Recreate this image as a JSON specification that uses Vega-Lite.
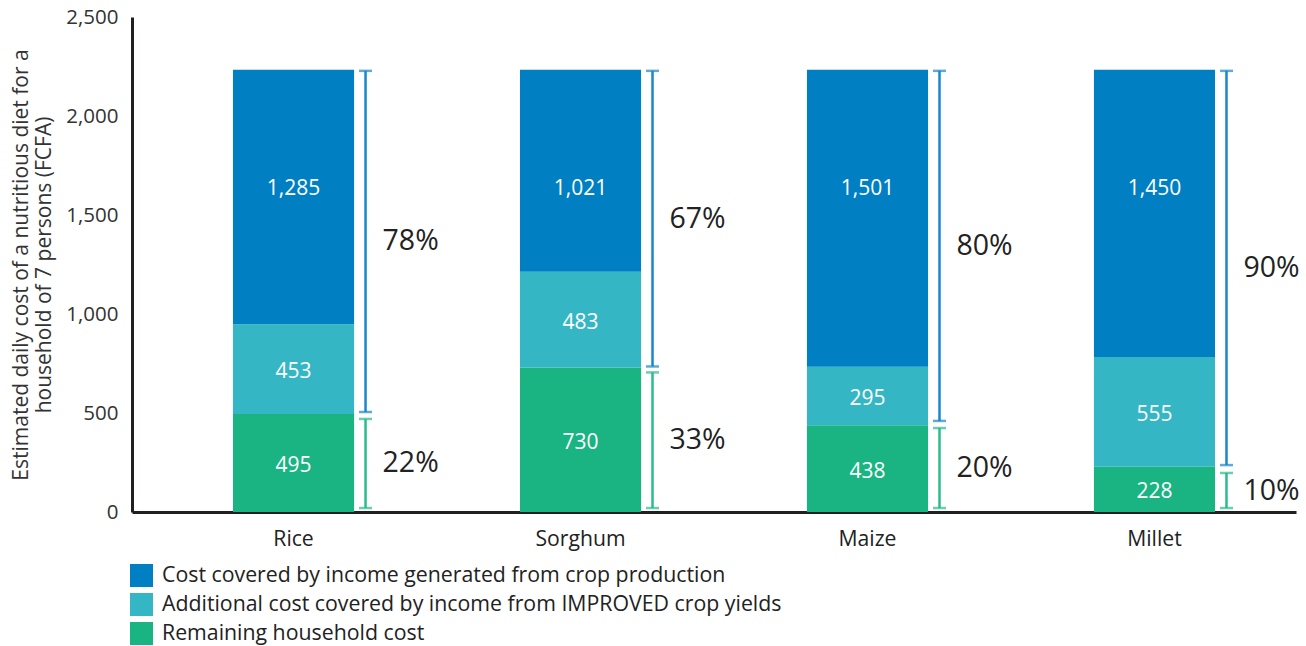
{
  "$schema": "https://vega.github.io/schema/vega-lite/v6.json",
  "autosize": "none",
  "width": 1164,
  "height": 495,
  "padding": {"left": 132, "top": 17, "right": 10, "bottom": 134},
  "background": "white",
  "config": {
    "font": "Open Sans",
    "view": {"stroke": null},
    "axis": {"labelFont": "Open Sans", "titleFont": "Open Sans"},
    "legend": {"labelFont": "Open Sans"}
  },
  "datasets": {
    "segments": [
      {"crop": "Rice", "segment": "Remaining household cost", "order": 1, "value": 495},
      {"crop": "Rice", "segment": "Additional cost covered by income from IMPROVED crop yields", "order": 2, "value": 453},
      {"crop": "Rice", "segment": "Cost covered by income generated from crop production", "order": 3, "value": 1285},
      {"crop": "Sorghum", "segment": "Remaining household cost", "order": 1, "value": 730},
      {"crop": "Sorghum", "segment": "Additional cost covered by income from IMPROVED crop yields", "order": 2, "value": 483},
      {"crop": "Sorghum", "segment": "Cost covered by income generated from crop production", "order": 3, "value": 1021},
      {"crop": "Maize", "segment": "Remaining household cost", "order": 1, "value": 438},
      {"crop": "Maize", "segment": "Additional cost covered by income from IMPROVED crop yields", "order": 2, "value": 295},
      {"crop": "Maize", "segment": "Cost covered by income generated from crop production", "order": 3, "value": 1501},
      {"crop": "Millet", "segment": "Remaining household cost", "order": 1, "value": 228},
      {"crop": "Millet", "segment": "Additional cost covered by income from IMPROVED crop yields", "order": 2, "value": 555},
      {"crop": "Millet", "segment": "Cost covered by income generated from crop production", "order": 3, "value": 1450}
    ],
    "brackets": [
      {"crop": "Rice", "part": "covered", "lo": 505, "hi": 2228, "pct": "78%"},
      {"crop": "Rice", "part": "remaining", "lo": 20, "hi": 470, "pct": "22%"},
      {"crop": "Sorghum", "part": "covered", "lo": 735, "hi": 2228, "pct": "67%"},
      {"crop": "Sorghum", "part": "remaining", "lo": 20, "hi": 705, "pct": "33%"},
      {"crop": "Maize", "part": "covered", "lo": 460, "hi": 2228, "pct": "80%"},
      {"crop": "Maize", "part": "remaining", "lo": 20, "hi": 424, "pct": "20%"},
      {"crop": "Millet", "part": "covered", "lo": 237, "hi": 2228, "pct": "90%"},
      {"crop": "Millet", "part": "remaining", "lo": 20, "hi": 197, "pct": "10%"}
    ]
  },
  "encoding": {
    "x": {
      "field": "crop",
      "type": "nominal",
      "sort": ["Rice", "Sorghum", "Maize", "Millet"],
      "scale": {"paddingInner": 0.578, "paddingOuter": 0.317, "align": 0.555},
      "axis": {
        "title": null,
        "labelAngle": 0,
        "labelFontSize": 21.2,
        "labelColor": "#222222",
        "labelPadding": 16,
        "ticks": false,
        "domainColor": "#231f20",
        "domainWidth": 3
      }
    }
  },
  "layer": [
    {
      "data": {"name": "segments"},
      "mark": {"type": "bar", "width": {"band": 1}},
      "encoding": {
        "y": {
          "field": "value",
          "type": "quantitative",
          "stack": "zero",
          "scale": {"domain": [0, 2500], "nice": false},
          "axis": {
            "values": [0, 500, 1000, 1500, 2000, 2500],
            "format": ",.0f",
            "grid": false,
            "ticks": false,
            "labelFontSize": 20.5,
            "labelColor": "#333333",
            "labelPadding": 14,
            "domainColor": "#231f20",
            "domainWidth": 3,
            "title": ["Estimated daily cost of a nutritious diet for a", "household of 7 persons (FCFA)"],
            "titleFontSize": 21,
            "titleFontWeight": "normal",
            "titleColor": "#333333",
            "titlePadding": 11,
            "titleLineHeight": 23,
            "encode": {"labels": {"update": {"dy": {"signal": "(datum.value - 1000) * 0.0063"}}}}
          }
        },
        "order": {"field": "order", "type": "quantitative"},
        "color": {
          "field": "segment",
          "type": "nominal",
          "scale": {
            "domain": [
              "Cost covered by income generated from crop production",
              "Additional cost covered by income from IMPROVED crop yields",
              "Remaining household cost"
            ],
            "range": ["#0080c3", "#35b6c4", "#19b482"]
          },
          "legend": {
            "title": null,
            "orient": "none",
            "legendX": -2,
            "legendY": 547,
            "direction": "vertical",
            "symbolType": "square",
            "symbolSize": 529,
            "symbolStrokeWidth": 0,
            "symbolOpacity": 1,
            "labelFontSize": 21.3,
            "labelLimit": 1000,
            "labelColor": "#222222",
            "labelOffset": 9,
            "rowPadding": 6,
            "padding": 0
          }
        }
      }
    },
    {
      "data": {"name": "segments"},
      "transform": [
        {"filter": "datum.order < 3"},
        {"stack": "value", "groupby": ["crop"], "sort": [{"field": "order"}], "as": ["v0", "v1"]},
        {"calculate": "(datum.v0 + datum.v1) / 2", "as": "mid"}
      ],
      "mark": {"type": "text", "color": "white", "fontSize": 21, "baseline": "middle", "dy": 3},
      "encoding": {
        "y": {"field": "mid", "type": "quantitative"},
        "text": {"field": "value", "type": "quantitative", "format": ",.0f"}
      }
    },
    {
      "data": {"name": "segments"},
      "transform": [{"filter": "datum.order == 3"}],
      "mark": {"type": "text", "color": "white", "fontSize": 21, "baseline": "middle"},
      "encoding": {
        "y": {"datum": 1633, "type": "quantitative"},
        "text": {"field": "value", "type": "quantitative", "format": ",.0f"}
      }
    },
    {
      "data": {"name": "brackets"},
      "mark": {"type": "rule", "xOffset": 72, "strokeWidth": 2.5},
      "encoding": {
        "y": {"field": "lo", "type": "quantitative"},
        "y2": {"field": "hi"},
        "color": {
          "field": "part",
          "type": "nominal",
          "scale": {"domain": ["covered", "remaining"], "range": ["#1a86cc", "#2bbb8c"]},
          "legend": null
        }
      }
    },
    {
      "data": {"name": "brackets"},
      "mark": {"type": "tick", "xOffset": 72, "size": 13, "thickness": 2.5, "orient": "horizontal"},
      "encoding": {
        "y": {"field": "lo", "type": "quantitative"},
        "color": {
          "field": "part",
          "type": "nominal",
          "scale": {"domain": ["covered", "remaining"], "range": ["#1a86cc", "#2bbb8c"]},
          "legend": null
        }
      }
    },
    {
      "data": {"name": "brackets"},
      "mark": {"type": "tick", "xOffset": 72, "size": 13, "thickness": 2.5, "orient": "horizontal"},
      "encoding": {
        "y": {"field": "hi", "type": "quantitative"},
        "color": {
          "field": "part",
          "type": "nominal",
          "scale": {"domain": ["covered", "remaining"], "range": ["#1a86cc", "#2bbb8c"]},
          "legend": null
        }
      }
    },
    {
      "data": {"name": "brackets"},
      "transform": [{"calculate": "(datum.lo + datum.hi) / 2", "as": "mid"}],
      "mark": {"type": "text", "align": "left", "baseline": "middle", "dx": 89, "fontSize": 28.5, "color": "#222222"},
      "encoding": {
        "y": {"field": "mid", "type": "quantitative"},
        "text": {"field": "pct", "type": "nominal"}
      }
    }
  ],
  "resolve": {"scale": {"color": "independent"}}
}
